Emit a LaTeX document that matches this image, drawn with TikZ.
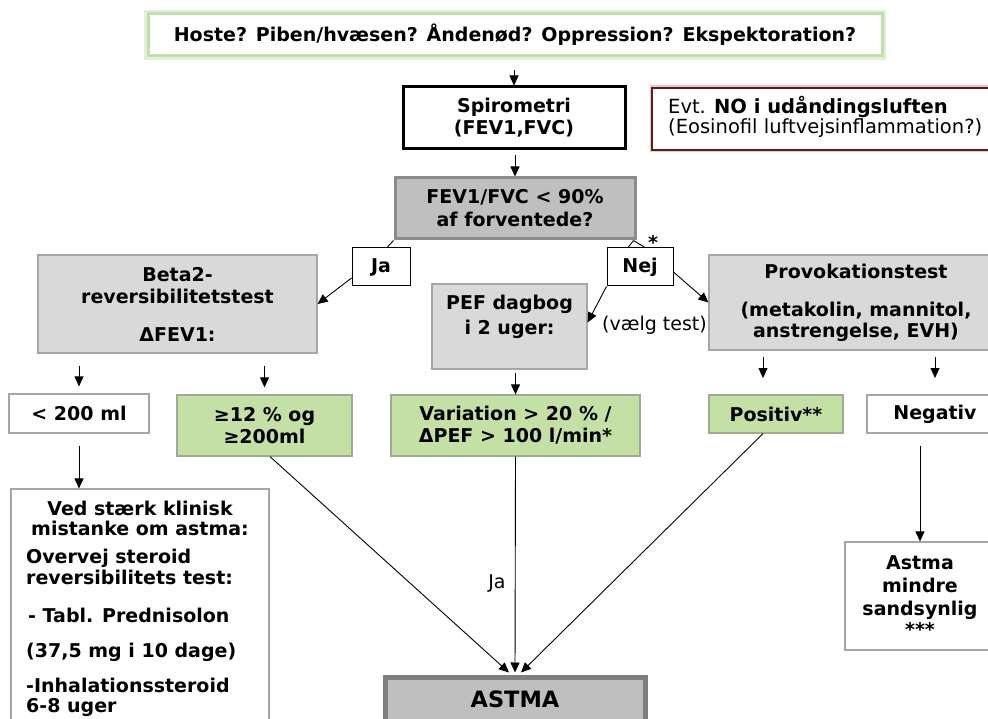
\documentclass[tikz,border=0pt]{standalone}
\usepackage{fontspec}
\setmainfont{DejaVu Sans}
\usetikzlibrary{arrows.meta}
\definecolor{glowA}{HTML}{E3F0D8}
\definecolor{glowB}{HTML}{C4DFAE}
\definecolor{nored}{HTML}{5A1E1E}
\definecolor{nopink}{HTML}{F2C4C4}
\definecolor{lgray}{HTML}{D9D9D9}
\definecolor{bgray}{HTML}{A6A6A6}
\definecolor{fevfill}{HTML}{BFBFBF}
\definecolor{fevbord}{HTML}{8C8C8C}
\definecolor{astbord}{HTML}{7F7F7F}
\definecolor{gfill}{HTML}{C5E0A5}
\definecolor{gbord}{HTML}{9EAA95}
\newcommand\myfs{\fontsize{19}{22}\selectfont}
\begin{document}
\begin{tikzpicture}[x=1pt,y=-1pt,
  box/.style={rectangle, inner sep=0pt, align=center, font=\myfs\bfseries},
  graybox/.style={box, fill=lgray, draw=bgray, line width=1.2pt},
  whitebox/.style={box, fill=white, draw=bgray, line width=1.2pt},
  greenbox/.style={box, fill=gfill, draw=gbord, line width=1.2pt},
  tagbox/.style={box, fill=white, draw=black, line width=1pt, minimum width=58, minimum height=38},
  txt/.style={inner sep=0pt, font=\myfs\bfseries},
  plain/.style={inner sep=0pt, font=\myfs},
  ln/.style={line width=0.9pt, black},
  arr/.style={ln, -{Triangle[length=10pt,width=9pt]}}]
\useasboundingbox (0,0) rectangle (988,719);
\fill[white] (0,0) rectangle (988,719);

% top question
\node[box, fill=white, draw=glowB, line width=3pt, preaction={draw=glowA, line width=8pt},
  minimum width=734, minimum height=42] (top) at (515,35)
  {Hoste? Piben/hvæsen? Åndenød? Oppression? Ekspektoration?};

% spirometri
\node[box, fill=white, draw=black, line width=3pt, minimum width=222, minimum height=62]
  (spiro) at (514,118) {Spirometri\\(FEV1,FVC)};

% NO box
\node[rectangle, inner sep=0pt, fill=white, draw=nored, line width=1.2pt,
  preaction={draw=nopink, line width=5pt}, minimum width=340, minimum height=62]
  (no) at (822,119) {};
\node[plain, anchor=west, align=left, font=\fontsize{19.5}{20}\selectfont] (noT) at (668,117)
  {Evt. \textbf{NO i udåndingsluften}\\(Eosinofil luftvejsinflammation?)};

% FEV1/FVC
\node[box, fill=fevfill, draw=fevbord, line width=3pt, minimum width=240, minimum height=61]
  (fev) at (515,208.5) {FEV1/FVC < 90\%\\[1pt]af forventede?};

% Ja / Nej
\node[tagbox] (ja) at (381,267) {Ja};
\node[tagbox, minimum width=66] (nej) at (640,267) {Nej};
\node[txt] (star) at (653,242) {*};

% second row
\node[graybox, minimum width=279, minimum height=98] (beta) at (177.5,304)
  {Beta2-\\reversibilitetstest\\[16pt]ΔFEV1:};
\node[graybox, minimum width=155, minimum height=85] (pef) at (509.5,326.5) {};
\node[txt, align=center] (pefT) at (509.5,316.5) {PEF dagbog\\[3pt]i 2 uger:};
\node[plain] (valg) at (654.5,325) {(vælg test)};
\node[graybox, minimum width=294, minimum height=95] (prov) at (856,302.5)
  {Provokationstest\\[16pt](metakolin, mannitol,\\[-1pt]anstrengelse, EVH)};

% third row
\node[whitebox, minimum width=140, minimum height=39] (lt) at (79,413.5) {< 200 ml};
\node[greenbox, minimum width=175, minimum height=61] (g12) at (264.5,425.5) {≥12 \% og\\≥200ml};
\node[greenbox, minimum width=249, minimum height=61] (var) at (515.5,425.5)
  {Variation > 20 \% /\\ΔPEF > 100 l/min*};
\node[greenbox, minimum width=134, minimum height=38] (pos) at (776,414) {Positiv**};
\node[whitebox, minimum width=136, minimum height=38] (neg) at (935,414) {Negativ};

% left steroid box
\node[whitebox, minimum width=258, minimum height=241] (left) at (140,609.5) {};
\node[txt] (l1) at (140,508) {Ved stærk klinisk};
\node[txt] (l2) at (140,528) {mistanke om astma:};
\node[txt, anchor=west] (l3) at (26,558) {Overvej steroid};
\node[txt, anchor=west] (l4) at (26,577) {reversibilitets test:};
\node[txt, anchor=west] (l5) at (28,615) {- Tabl. Prednisolon};
\node[txt, anchor=west] (l6) at (26,652) {(37,5 mg i 10 dage)};
\node[txt, anchor=west] (l7) at (26,685) {-Inhalationssteroid};
\node[txt, anchor=west] (l8) at (26,707) {6-8 uger};

% astma mindre
\node[whitebox, minimum width=150, minimum height=108] (mindre) at (920,596)
  {Astma\\[1pt]mindre\\[1pt]sandsynlig\\[-1pt]***};

% ASTMA
\node[box, fill=fevfill, draw=astbord, line width=5pt, minimum width=260, minimum height=44.5,
  font=\fontsize{22.5}{26}\selectfont\bfseries] (astma) at (515,699.75) {ASTMA};
\node[plain] (jal) at (497,583) {Ja};

% coordinates
\coordinate (c1) at (514,70);
\coordinate (c2) at (515,155);
\coordinate (p1s) at (763,357);
\coordinate (p1e) at (763,378);
\coordinate (p2s) at (935,357);
\coordinate (p2e) at (935,378);
\coordinate (aL) at ([xshift=-6pt,yshift=2.5pt]astma.north);
\coordinate (aM) at ([yshift=2.5pt]astma.north);
\coordinate (aR) at ([xshift=6pt,yshift=2.5pt]astma.north);

% connectors
\draw[arr] (c1) -- (spiro.north);
\draw[arr] (c2) -- (fev.north);
\draw[ln] (fev.south west) -- ([xshift=6pt]ja.north);
\draw[ln] ([xshift=-3pt]fev.south east) -- ([xshift=-12pt]nej.north);
\draw[ln] ([xshift=-3pt]fev.south east) -- ([xshift=5pt]nej.north);
\draw[arr] ([yshift=-11pt]ja.west) -- (beta.east);
\draw[arr] (nej.south west) -- ([yshift=4pt]pef.east);
\draw[arr] ([yshift=-5pt]nej.east) -- (prov.west);
\draw[arr, shorten <=12pt, shorten >=7pt] (lt.north |- beta.south) -- (lt.north);
\draw[arr, shorten <=12pt, shorten >=7pt] (g12.north |- beta.south) -- (g12.north);
\draw[arr, shorten <=3pt] (var.north |- pef.south) -- (var.north);
\draw[arr] (p1s) -- (p1e);
\draw[arr] (p2s) -- (p2e);
\draw[arr, shorten <=12pt] (lt.south) -- (lt.south |- left.north);
\draw[arr, shorten <=12pt] (mindre.north |- neg.south) -- (mindre.north);
\draw[arr] ([xshift=5.5pt]g12.south) -- (aL);
\draw[arr] (var.south) -- (aM);
\draw[arr] ([xshift=-13pt]pos.south) -- (aR);
\end{tikzpicture}
\end{document}
